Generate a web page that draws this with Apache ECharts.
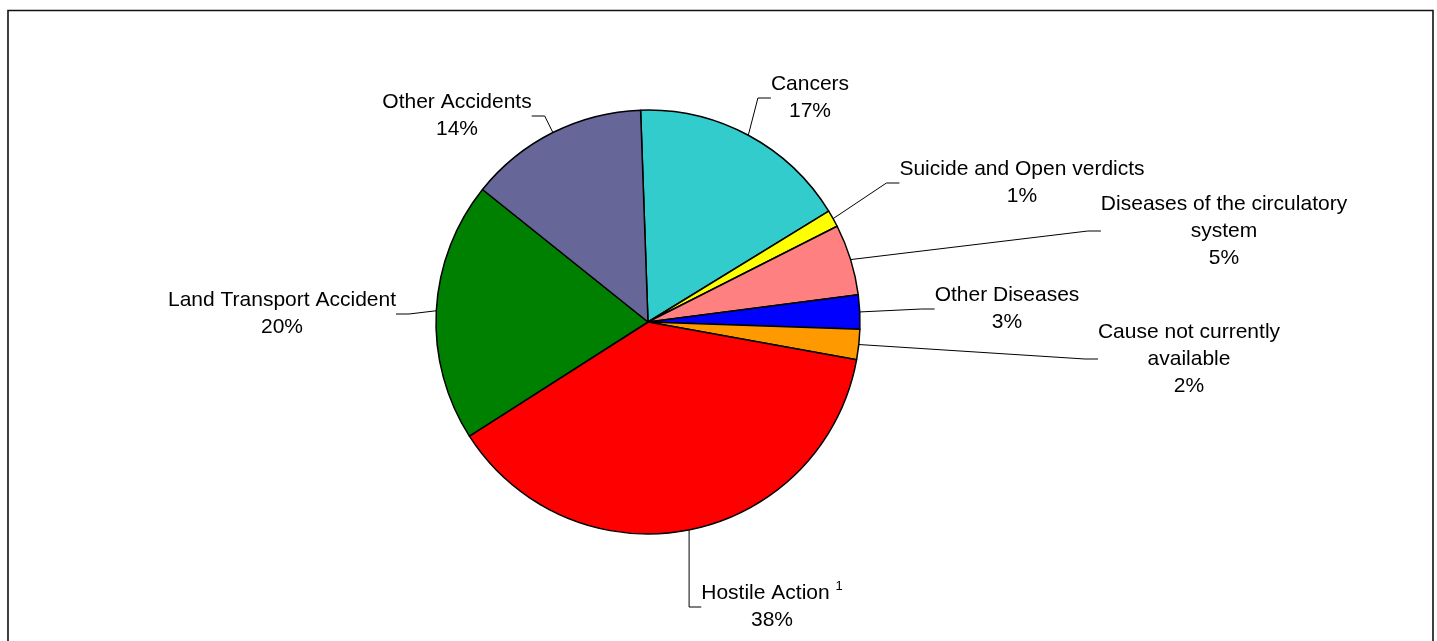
<!DOCTYPE html>
<html>
<head>
<meta charset="utf-8">
<script src="https://cdn.jsdelivr.net/npm/echarts@6/dist/echarts.min.js"></script>
<style>
html,body{margin:0;padding:0;background:#fff;}
#main{width:1437px;height:641px;}
</style>
</head>
<body>
<div id="main"></div>
<script>
// categories, clockwise from the top
var names = ['Cancers', 'Suicide and Open verdicts', 'Diseases of the circulatory\nsystem', 'Other Diseases',
	'Cause not currently\navailable', 'Hostile Action', 'Land Transport Accident', 'Other Accidents'];
// share of deaths (%)
var values = [16.8, 1.3, 5.4, 2.6, 2.3, 38.1, 19.8, 13.7];
var colors = ['#33CCCC', '#FFFF00', '#FF8080', '#0000FF', '#FF9900', '#FF0000', '#008000', '#666699'];
// where each label block sits (centre)
var labelPos = [[810, 98], [1022, 183], [1224, 231], [1007, 309], [1189, 359], [772, 607], [282, 314], [457, 116]];

var data = [];
for (var i = 0; i < names.length; i++) {
	data.push({name: names[i], value: values[i], itemStyle: {color: colors[i]}});
}

var chart = echarts.init(document.getElementById('main'));
var option = {
	animation: false,
	graphic: [{
		type: 'rect',
		shape: {x: 8, y: 10.5, width: 1425, height: 700},
		style: {fill: null, stroke: '#111', lineWidth: 1.6},
		silent: true
	}],
	series: [{
		type: 'pie',
		center: [648, 322],
		radius: 212,
		startAngle: 92,
		clockwise: true,
		data: data,
		itemStyle: {borderColor: '#000', borderWidth: 1.5},
		label: {
			show: true,
			position: 'outside',
			fontFamily: 'Liberation Sans, Arial, sans-serif',
			fontSize: 21,
			lineHeight: 27,
			color: '#000',
			formatter: function (p) {
				var n = p.name == 'Hostile Action' ? 'Hostile Action {sup|1}' : p.name;
				return n + '\n' + Math.round(p.percent) + '%';
			},
			rich: {
				sup: {fontSize: 13, lineHeight: 14, verticalAlign: 'top', color: '#000',
					fontFamily: 'Liberation Sans, Arial, sans-serif'}
			}
		},
		labelLine: {
			show: true,
			length: 10,
			length2: 13,
			lineStyle: {color: '#000', width: 1}
		},
		labelLayout: function (p) {
			var pos = labelPos[p.dataIndex];
			return {x: pos[0], y: pos[1], align: 'center', verticalAlign: 'middle'};
		},
		emphasis: {disabled: true}
	}]
};
chart.setOption(option);
</script>
</body>
</html>
